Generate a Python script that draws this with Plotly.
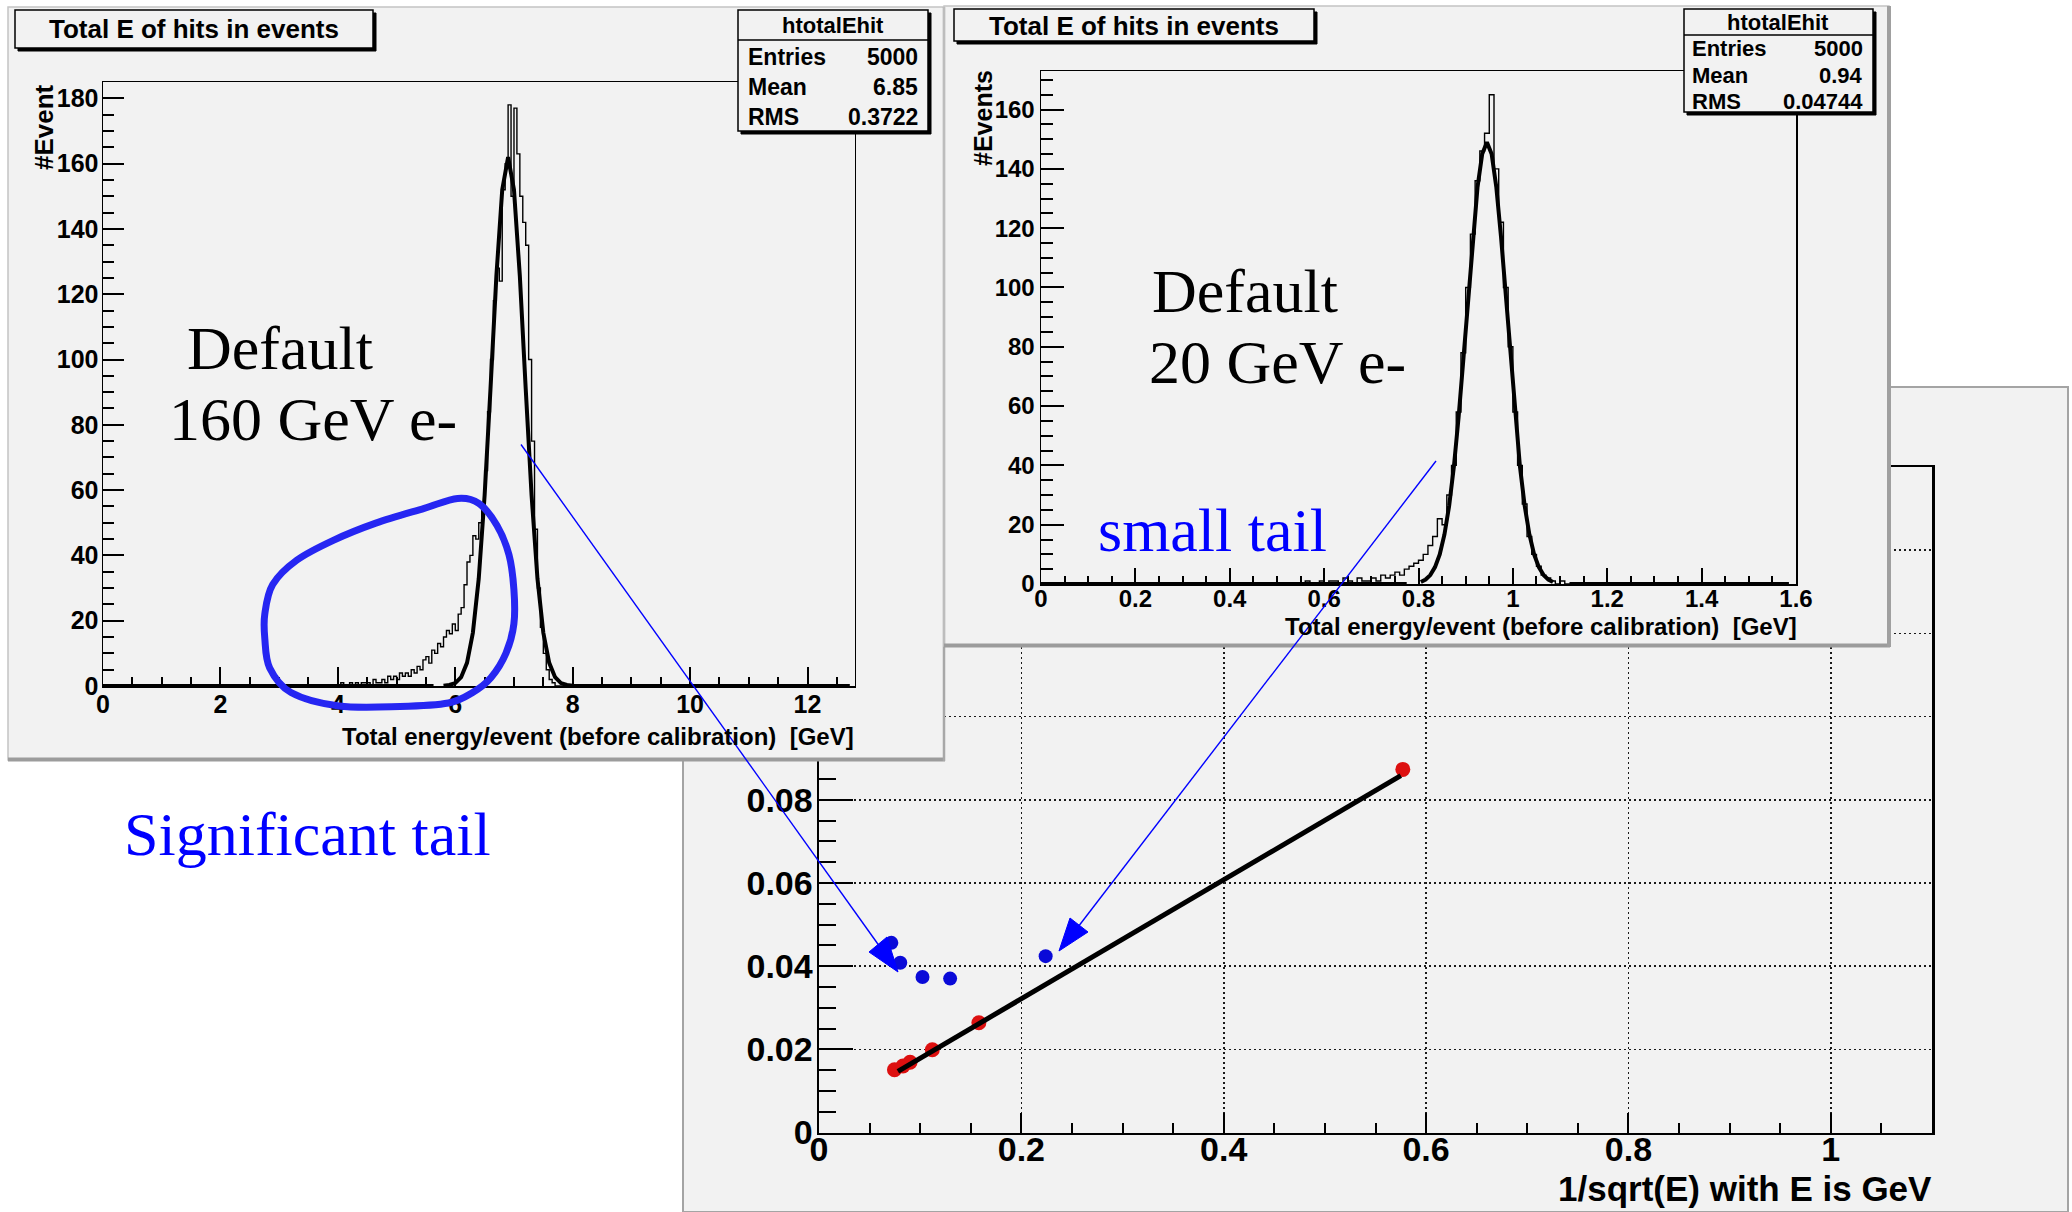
import plotly.graph_objects as go
import numpy as np

W, H = 2072, 1212


def fx(p):
    return p / W


def fy(p):
    return 1 - p / H


# ---------------- data ----------------
# Left histogram: Default 160 GeV e-
h160_lo = 4.0
h160_bin = 0.05
h160_counts = [
    0, 1, 0, 0, 1, 0, 1, 0, 1, 1,
    1, 0, 2, 1, 1, 2, 1, 3, 2, 3,
    2, 4, 3, 4, 3, 5, 4, 6, 5, 8,
    9, 7, 11, 10, 13, 12, 15, 17, 16, 19,
    17, 22, 24, 31, 38, 40, 46, 45, 50, 56,
    66, 84, 100, 118, 128, 124, 152, 160, 178, 150,
    177, 163, 150, 142, 135, 100, 75, 48, 30, 18,
    10, 5, 2, 1, 0, 0, 0, 0, 0, 0,
]
h160_fit_x = [0.0, 5.63, None, 5.8, 5.9, 6.0, 6.1, 6.2, 6.3, 6.4, 6.5, 6.6, 6.7, 6.8,
              6.9, 7.0, 7.1, 7.2, 7.3, 7.4, 7.5, 7.6, 7.7, 7.8, 7.9, 8.0, 12.72]
h160_fit_y = [0, 0, None, 0.1, 0.3, 0.9, 2.7, 7.1, 16.3, 32.9, 58.4, 91, 125.5, 152,
              162, 152, 125.5, 91, 58.4, 32.9, 16.3, 7.1, 2.7, 0.9, 0.3, 0.1, 0]

# Right histogram: Default 20 GeV e-
h20_lo = 0.55
h20_bin = 0.01
h20_counts = [
    0, 1, 0, 0, 1,
    0, 1, 1, 0, 2, 1, 0, 2, 1, 1,
    2, 1, 3, 2, 3, 4, 3, 5, 6, 7,
    8, 10, 13, 16, 22, 20, 30, 40, 58, 78,
    100, 118, 136, 146, 152, 165, 140, 122, 100, 80,
    58, 40, 27, 16, 10, 6, 3, 2, 1, 0,
    1, 0, 0, 0, 0,
]
h20_fit_x = [0.0, 0.775, None,
             0.805, 0.815, 0.825, 0.835, 0.845, 0.855, 0.865, 0.875, 0.885, 0.895,
             0.905, 0.915, 0.925, 0.935, 0.945, 0.955, 0.965, 0.975, 0.985, 0.995,
             1.005, 1.015, 1.025, 1.035, 1.045, 1.055, 1.065, 1.075, 1.085,
             None, 1.12, 1.585]
h20_fit_y = [0, 0, None,
             0.7, 1.5, 3.0, 5.7, 10.0, 16.7, 26.4, 39.6, 56.3, 75.8,
             96.7, 116.8, 133.7, 145, 149, 145, 133.7, 116.8, 96.7, 75.8,
             56.3, 39.6, 26.4, 16.7, 10.0, 5.7, 3.0, 1.5, 0.7,
             None, 0, 0]

# Resolution plot
res_red_x = [0.0746, 0.083, 0.090, 0.112, 0.158, 0.577]
res_red_y = [0.0151, 0.0160, 0.0169, 0.0199, 0.0264, 0.0873]
res_blue_x = [0.0715, 0.0803, 0.1023, 0.1296, 0.224]
res_blue_y = [0.0456, 0.0408, 0.0374, 0.0370, 0.0424]
res_fit_x = [0.078, 0.575]
res_fit_y = [0.0147, 0.0858]
# y tick labels of the resolution plot that lie under the histogram canvases
res_hidden_labels = ["0.1", "0.12", "0.14", "0.16"]

# ---------------- styles ----------------
CANVAS = "#f2f2f2"
BORDER = "#a4a4a4"
BLUE = "#0000ff"
LOOP = "#2626f2"
SANS = "Liberation Sans"
SERIF = "Liberation Serif"


def step_xy(lo, width, counts):
    edges = lo + width * np.arange(len(counts) + 1)
    return edges, list(counts) + [counts[-1]]


fig = go.Figure()

# 1) resolution plot (bottom layer)
fig.add_trace(go.Scatter(x=res_blue_x, y=res_blue_y, mode="markers",
                         marker=dict(color="#0a0ad8", size=14), xaxis="x", yaxis="y",
                         hoverinfo="skip", showlegend=False))
fig.add_trace(go.Scatter(x=res_red_x, y=res_red_y, mode="markers",
                         marker=dict(color="#dd1010", size=15), xaxis="x", yaxis="y",
                         hoverinfo="skip", showlegend=False))
fig.add_trace(go.Scatter(x=res_fit_x, y=res_fit_y, mode="lines",
                         line=dict(color="black", width=5), xaxis="x", yaxis="y",
                         hoverinfo="skip", showlegend=False))

# 2) canvas of left histogram (dummy subplot)
fig.add_trace(go.Scatter(x=[], y=[], xaxis="x2", yaxis="y2", showlegend=False, hoverinfo="skip"))

# 3) left histogram
ex, ey = step_xy(h160_lo, h160_bin, h160_counts)
fig.add_trace(go.Scatter(x=ex, y=ey, mode="lines", line=dict(color="black", width=1.4, shape="hv"),
                         xaxis="x3", yaxis="y3", hoverinfo="skip", showlegend=False))
fig.add_trace(go.Scatter(x=h160_fit_x, y=h160_fit_y, mode="lines", line=dict(color="black", width=4),
                         xaxis="x3", yaxis="y3", hoverinfo="skip", showlegend=False, connectgaps=False))

# 4) canvas of right histogram (dummy subplot)
fig.add_trace(go.Scatter(x=[], y=[], xaxis="x4", yaxis="y4", showlegend=False, hoverinfo="skip"))

# 5) right histogram
ex, ey = step_xy(h20_lo, h20_bin, h20_counts)
fig.add_trace(go.Scatter(x=ex, y=ey, mode="lines", line=dict(color="black", width=1.4, shape="hv"),
                         xaxis="x5", yaxis="y5", hoverinfo="skip", showlegend=False))
fig.add_trace(go.Scatter(x=h20_fit_x, y=h20_fit_y, mode="lines", line=dict(color="black", width=4),
                         xaxis="x5", yaxis="y5", hoverinfo="skip", showlegend=False, connectgaps=False))


def axis(domain, rng, anchor, dtick, minor_dtick, ticklen, minorlen, fsize, linewidth=1.5,
         grid=False, standoff=0):
    d = dict(domain=domain, range=rng, anchor=anchor, autorange=False, fixedrange=True,
             automargin=False,
             showline=True, mirror=True, linecolor="black", linewidth=linewidth,
             zeroline=False, ticks="inside", ticklen=ticklen, tickwidth=2, tickcolor="black",
             tick0=0, dtick=dtick, ticklabelstandoff=standoff,
             tickfont=dict(family=SANS, size=fsize, color="black", weight="bold"),
             minor=dict(dtick=minor_dtick, tick0=0, ticks="inside", ticklen=minorlen,
                        tickwidth=2, tickcolor="black", showgrid=False),
             showgrid=grid)
    if grid:
        d.update(gridcolor="#1a1a1a", gridwidth=1.6, griddash="1.6px,3.4px")
    return d


def dummy(domain, anchor):
    return dict(domain=domain, anchor=anchor, visible=False, range=[0, 1], fixedrange=True,
                automargin=False, showgrid=False, zeroline=False)


res_yaxis = axis([fy(1132.5), fy(467)], [0, 0.16], "x", 0.02, 0.005, 34, 17, 34, linewidth=2.5,
                 grid=True, standoff=-3)
res_yaxis["labelalias"] = {lab: "" for lab in res_hidden_labels}

layout = dict(
    width=W, height=H, autosize=False,
    margin=dict(l=0, r=0, t=0, b=0, pad=0, autoexpand=False),
    paper_bgcolor="white", plot_bgcolor=CANVAS, showlegend=False,
    xaxis=axis([fx(819), fx(1932)], [0, 1.1], "y", 0.2, 0.05, 20, 10, 34, linewidth=2.5,
               grid=True, standoff=-15),
    yaxis=res_yaxis,
    xaxis2=dummy([fx(8), fx(944)], "y2"),
    yaxis2=dummy([fy(760), fy(7)], "x2"),
    xaxis3=axis([fx(103), fx(854.5)], [0, 12.8], "y3", 2, 0.5, 19, 9, 25, standoff=-5),
    yaxis3=axis([fy(686), fy(82)], [0, 185], "x3", 20, 5, 21, 11, 25, standoff=-2),
    xaxis4=dummy([fx(944), fx(1889)], "y4"),
    yaxis4=dummy([fy(646), fy(6)], "x4"),
    xaxis5=axis([fx(1041), fx(1796)], [0, 1.6], "y5", 0.2, 0.05, 16, 8, 24, standoff=-7),
    yaxis5=axis([fy(584), fy(71)], [0, 173], "x5", 20, 5, 23, 12, 24),
)
fig.update_layout(**layout)

# ---------------- shapes ----------------
shapes = []


def rect(x0, y0, x1, y1, fill=None, line="black", lw=1.5, layer="above"):
    d = dict(type="rect", xref="paper", yref="paper", x0=fx(x0), x1=fx(x1), y0=fy(y1), y1=fy(y0),
             line=dict(color=line, width=lw), layer=layer)
    d["fillcolor"] = fill if fill else "rgba(0,0,0,0)"
    return d


def seg(x0, y0, x1, y1, color, lw, layer="above"):
    return dict(type="line", xref="paper", yref="paper", x0=fx(x0), y0=fy(y0), x1=fx(x1), y1=fy(y1),
                line=dict(color=color, width=lw), layer=layer)


# canvas of resolution plot, below everything
shapes.append(rect(683, 387, 2068, 1212, fill=CANVAS, line=BORDER, lw=2, layer="below"))

# borders of the two histogram canvases
shapes.append(rect(8, 7, 944, 760, line="#c4c4c4", lw=1.5))
shapes.append(seg(8, 759.5, 945, 759.5, "#9c9c9c", 4))
shapes.append(seg(944, 7, 944, 761, "#a8a8a8", 2.5))
shapes.append(rect(944, 6, 1889, 646, line="#c4c4c4", lw=1.5))
shapes.append(seg(944, 645.5, 1890, 645.5, "#9c9c9c", 4))
shapes.append(seg(1889, 6, 1889, 647, "#a0a0a0", 4))


def box(x0, y0, x1, y1):
    shapes.append(rect(x0 + 3, y0 + 3, x1 + 3, y1 + 3, fill="black", line="black", lw=1))
    shapes.append(rect(x0, y0, x1, y1, fill=CANVAS, line="black", lw=1.5))


# title boxes
box(15, 10, 373, 48)
box(954, 9, 1314, 41)
# stats boxes
box(738, 10, 928, 131)
shapes.append(seg(738, 40, 928, 40, "black", 1.5))
box(1684, 9, 1873, 112)
shapes.append(seg(1684, 35, 1873, 35, "black", 1.5))

# hand-drawn loop around the tail
loop_pts = [(448.5, 703), (400, 706.5), (339, 706), (291, 692.5), (269.7, 668), (264.8, 638.5),
            (264.8, 614), (272.7, 584.5), (297, 560), (333.3, 540.3), (375.8, 523.1),
            (424.2, 508.3), (457.6, 498.5), (478.8, 503.4), (497, 525.5), (509, 554.9),
            (513.9, 589.4), (513.9, 623.8), (506, 653.2), (490.9, 677.8), (472.7, 692.5)]


def smooth_closed(pts):
    n = len(pts)
    s = "M {:.5f},{:.5f}".format(fx(pts[0][0]), fy(pts[0][1]))
    for i in range(n):
        p0, p1, p2, p3 = pts[i - 1], pts[i], pts[(i + 1) % n], pts[(i + 2) % n]
        c1 = (p1[0] + (p2[0] - p0[0]) / 6, p1[1] + (p2[1] - p0[1]) / 6)
        c2 = (p2[0] - (p3[0] - p1[0]) / 6, p2[1] - (p3[1] - p1[1]) / 6)
        s += " C {:.5f},{:.5f} {:.5f},{:.5f} {:.5f},{:.5f}".format(
            fx(c1[0]), fy(c1[1]), fx(c2[0]), fy(c2[1]), fx(p2[0]), fy(p2[1]))
    return s + " Z"


shapes.append(dict(type="path", xref="paper", yref="paper", path=smooth_closed(loop_pts),
                   line=dict(color=LOOP, width=7), fillcolor="rgba(0,0,0,0)", layer="above"))


def tri(pts):
    s = "M " + " L ".join("{:.5f},{:.5f}".format(fx(x), fy(y)) for x, y in pts) + " Z"
    return dict(type="path", xref="paper", yref="paper", path=s, fillcolor=BLUE,
                line=dict(color=BLUE, width=1), layer="above")


# arrows
shapes.append(seg(521, 444.5, 880, 947, BLUE, 1.4))
shapes.append(tri([(869, 952), (887, 937), (898, 972)]))
shapes.append(seg(1436, 461, 1078, 927, BLUE, 1.4))
shapes.append(tri([(1059, 951), (1070, 918), (1088, 932)]))

fig.update_layout(shapes=shapes)

# ---------------- texts ----------------
ann = []


def txt(x, y, s, size, color="black", family=SANS, bold=True, xanchor="center", angle=0):
    ann.append(dict(x=fx(x), y=fy(y), xref="paper", yref="paper", text=s, showarrow=False,
                    xanchor=xanchor, yanchor="middle", textangle=angle, borderpad=0,
                    font=dict(family=family, size=size, color=color,
                              weight="bold" if bold else "normal")))


txt(194, 29, "Total E of hits in events", 26)
txt(1134, 26, "Total E of hits in events", 26)

txt(833, 26, "htotalEhit", 22)
txt(747, 57, "Entries", 23, xanchor="left")
txt(919, 57, "5000", 23, xanchor="right")
txt(747, 87, "Mean", 23, xanchor="left")
txt(919, 87, "6.85", 23, xanchor="right")
txt(747, 117, "RMS", 23, xanchor="left")
txt(919, 117, "0.3722", 23, xanchor="right")

txt(1778, 22, "htotalEhit", 22)
txt(1691, 49, "Entries", 22, xanchor="left")
txt(1864, 49, "5000", 22, xanchor="right")
txt(1691, 76, "Mean", 22, xanchor="left")
txt(1864, 76, "0.94", 22, xanchor="right")
txt(1691, 101, "RMS", 22, xanchor="left")
txt(1864, 101, "0.04744", 22, xanchor="right")

txt(44, 127, "#Event", 26, angle=-90)
txt(983, 118, "#Events", 25, angle=-90)
txt(855, 736, "Total energy/event (before calibration)  [GeV]", 24, xanchor="right")
txt(1798, 626, "Total energy/event (before calibration)  [GeV]", 24, xanchor="right")
txt(1933, 1188, "1/sqrt(E) with E is GeV", 35, xanchor="right")

txt(280, 348, "Default", 62, family=SERIF, bold=False)
txt(313, 419, "160 GeV e-", 62, family=SERIF, bold=False)
txt(1245, 291, "Default", 62, family=SERIF, bold=False)
txt(1277, 362, "20 GeV e-", 62, family=SERIF, bold=False)
txt(1212, 530, "small tail", 62, color=BLUE, family=SERIF, bold=False)
txt(307, 834, "Significant tail", 62, color=BLUE, family=SERIF, bold=False)

fig.update_layout(annotations=ann)

# remove the default page margin so the figure fills the window exactly
page_fix = ("document.documentElement.style.margin='0';document.documentElement.style.overflow='hidden';"
            "document.body.style.margin='0';document.body.style.padding='0';"
            "document.body.style.overflow='hidden';")
fig.write_html("out.html", include_plotlyjs=True, post_script=page_fix,
               config={"displayModeBar": False, "staticPlot": True})
